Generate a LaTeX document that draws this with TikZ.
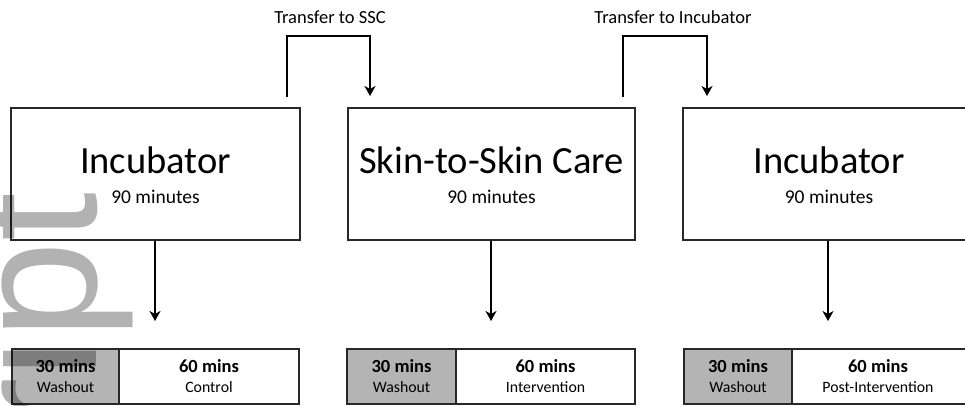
\documentclass[tikz,border=0pt]{standalone}
\usepackage{fontspec}
\setmainfont{Carlito}
\newfontfamily\wmfont{Liberation Sans}
\usetikzlibrary{arrows.meta}
\definecolor{washgray}{RGB}{180,180,180}
\definecolor{edge}{RGB}{40,40,40}
\tikzset{
  phase/.style={draw=edge, line width=1.4pt, fill=white, inner sep=0pt},
  seg/.style={draw=edge, line width=1.2pt, inner sep=0pt, minimum height=55pt},
  washseg/.style={seg, fill=washgray},
  titletxt/.style={font=\fontsize{38.5}{42}\selectfont, inner sep=0pt},
  subtxt/.style={font=\fontsize{19.5}{22}\selectfont, inner sep=0pt},
  bartop/.style={font=\bfseries\fontsize{18.5}{20}\selectfont, inner sep=0pt},
  barbot/.style={font=\fontsize{15.8}{18}\selectfont, inner sep=0pt},
  transtxt/.style={font=\fontsize{18.5}{20}\selectfont, inner sep=0pt},
  conn/.style={line width=1.7pt, black, -{Stealth[length=10pt,width=11pt,inset=3pt]}},
}
\begin{document}
\begin{tikzpicture}[x=1pt,y=-1pt]
\useasboundingbox (0,0) rectangle (965,406);
\clip (0,0) rectangle (965,406);
\fill[white] (0,0) rectangle (965,406);

% phase boxes
\node[phase, minimum width=289pt, minimum height=132pt] (b1) at (155.5,174) {};
\node[phase, minimum width=287pt, minimum height=132pt] (b2) at (491.5,174) {};
\node[phase, minimum width=292pt, minimum height=132pt] (b3) at (829,174) {};

\node[titletxt] (t1) at (155.5,160) {Incubator};
\node[subtxt] (s1) at (155.5,197) {90 minutes};
\node[titletxt] (t2) at (491.5,160) {Skin-to-Skin Care};
\node[subtxt] (s2) at (491.5,197) {90 minutes};
\node[titletxt] (t3) at (829,160) {Incubator};
\node[subtxt] (s3) at (829,197) {90 minutes};

% bottom bars
\node[washseg, minimum width=107pt] (w1) at (65.5,376.5) {};
\node[seg, fill=white, minimum width=180pt] (m1) at (209,376.5) {};
\node[washseg, minimum width=109pt] (w2) at (401.5,376.5) {};
\node[seg, fill=white, minimum width=179pt] (m2) at (545.5,376.5) {};
\node[washseg, minimum width=108pt] (w3) at (738,376.5) {};
\node[seg, fill=white, minimum width=183pt] (m3) at (883.5,376.5) {};

\node[bartop] (w1a) at (65.5,366) {30 mins};
\node[barbot] (w1b) at (65.5,387) {Washout};
\node[bartop] (m1a) at (209,366) {60 mins};
\node[barbot] (m1b) at (209,387) {Control};
\node[bartop] (w2a) at (401.5,366) {30 mins};
\node[barbot] (w2b) at (401.5,387) {Washout};
\node[bartop] (m2a) at (545.5,366) {60 mins};
\node[barbot] (m2b) at (545.5,387) {Intervention};
\node[bartop] (w3a) at (738,366) {30 mins};
\node[barbot] (w3b) at (738,387) {Washout};
\node[bartop] (m3a) at (878,366) {60 mins};
\node[barbot] (m3b) at (878,387) {Post-Intervention};

% down arrows
\coordinate (d1) at (155,321);
\coordinate (d2) at (491,321);
\coordinate (d3) at (828,321);
\draw[conn] (b1.south -| d1) -- (d1);
\draw[conn] (b2.south -| d2) -- (d2);
\draw[conn] (b3.south -| d3) -- (d3);

% transfer connectors
\coordinate (a1) at (287,97);
\coordinate (a1t) at (370,96);
\coordinate (a2) at (623,97);
\coordinate (a2t) at (707,96);
\draw[conn, line join=miter] (a1) -- (a1 |- 0,36) -- (a1t |- 0,36) -- (a1t);
\draw[conn, line join=miter] (a2) -- (a2 |- 0,36) -- (a2t |- 0,36) -- (a2t);
\node[transtxt] (l1) at (330,17) {Transfer to SSC};
\node[transtxt] (l2) at (673,17) {Transfer to Incubator};

% watermark (cut off by the picture's edge, as in the reference)
\node[rotate=90, anchor=base east, inner sep=0pt, text=black, text opacity=0.3,
      font=\wmfont\fontsize{176}{176}\selectfont] (wm) at (96,192) {Manuscript};
\end{tikzpicture}
\end{document}
